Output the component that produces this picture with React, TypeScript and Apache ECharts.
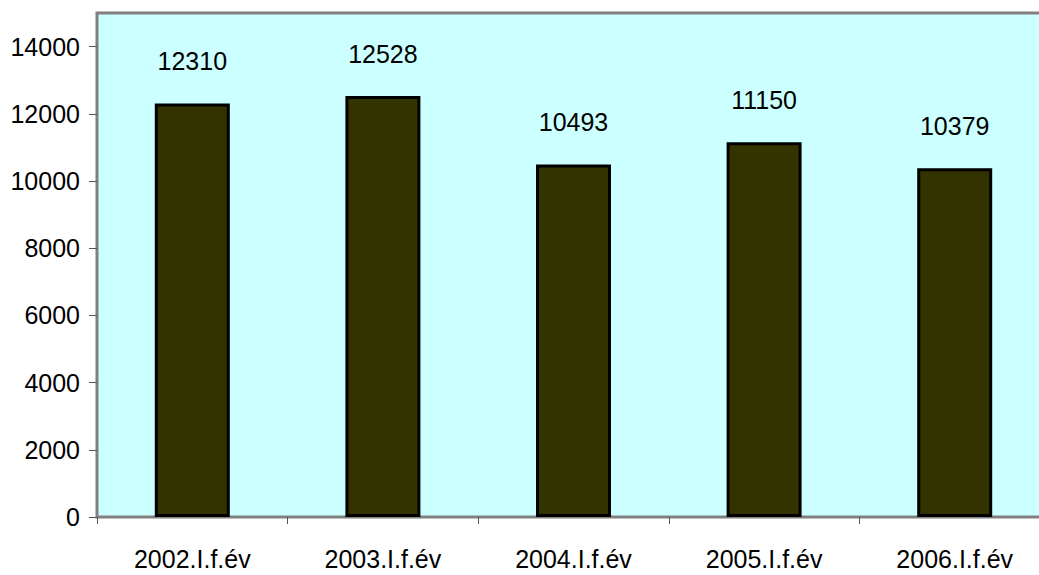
import React, { useEffect, useRef } from "react";
import * as echarts from "echarts";

const categories = ["2002.I.f.év", "2003.I.f.év", "2004.I.f.év", "2005.I.f.év", "2006.I.f.év"];
const values = [12310, 12528, 10493, 11150, 10379];
const yTicks = [0, 2000, 4000, 6000, 8000, 10000, 12000, 14000];

const FONT = '"Liberation Sans", Arial, sans-serif';

export default function App() {
  const ref = useRef<HTMLDivElement>(null);
  useEffect(() => {
    document.body.style.margin = "0";
    document.body.style.overflow = "hidden";
    const chart = echarts.init(ref.current!, null, { renderer: "svg" });
    chart.setOption({
      animation: false,
      backgroundColor: "#ffffff",
      grid: {
        left: 97,
        top: 13,
        bottom: 58,
        right: 10,
        outerBoundsMode: "none",
        containLabel: false,
        show: true,
        backgroundColor: "#CCFFFF",
        borderColor: "#808080",
        borderWidth: 3,
      },
      xAxis: {
        type: "category",
        data: categories,
        axisLine: { show: true, lineStyle: { color: "#808080", width: 2 } },
        axisTick: { show: true, length: 7, lineStyle: { color: "#555555", width: 1 } },
        axisLabel: {
          color: "#000000",
          fontFamily: FONT,
          fontSize: 25,
          margin: 29,
        },
      },
      yAxis: {
        type: "value",
        min: 0,
        max: 15000,
        interval: 1000,
        axisLine: { show: true, lineStyle: { color: "#808080", width: 2 } },
        axisTick: { show: true, length: 8, customValues: yTicks, lineStyle: { color: "#555555", width: 1 } },
        splitLine: { show: false },
        axisLabel: {
          color: "#000000",
          fontFamily: FONT,
          fontSize: 25,
          margin: 17,
          customValues: yTicks,
          formatter: (v: number) => String(v),
        },
      },
      series: [
        {
          type: "bar",
          data: values,
          barWidth: 75,
          itemStyle: { color: "#333300", borderColor: "#000000", borderWidth: 3 },
          label: {
            show: true,
            position: "top",
            distance: 30,
            color: "#000000",
            fontFamily: FONT,
            fontSize: 25,
          },
        },
      ],
    });
    return () => chart.dispose();
  }, []);
  return (
    <div style={{ width: 1039, height: 575, overflow: "hidden", position: "fixed", left: 0, top: 0 }}>
      <div ref={ref} style={{ width: 1060, height: 575 }} />
    </div>
  );
}
